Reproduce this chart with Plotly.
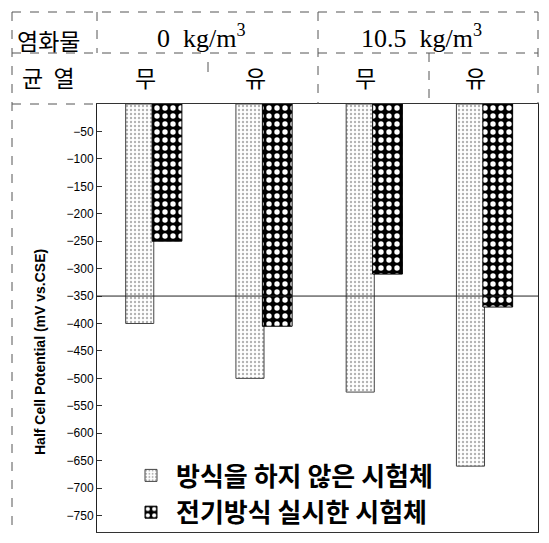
import plotly.graph_objects as go

# ---- data ----
categories = ["0 kg/m³ · 무", "0 kg/m³ · 유", "10.5 kg/m³ · 무", "10.5 kg/m³ · 유"]
crack_labels = ["무", "유", "무", "유"]
chloride_labels = ["0 &nbsp;kg/m<sup>3</sup>", "10.5 &nbsp;kg/m<sup>3</sup>"]
row_labels = ["염화물", "균 &nbsp;열"]
series_names = ["방식을 하지 않은 시험체", "전기방식 실시한 시험체"]
no_protection = [-400, -500, -525, -660]
with_protection = [-250, -405, -310, -370]
threshold = -350
y_ticks = [-50, -100, -150, -200, -250, -300, -350, -400, -450, -500,
           -550, -600, -650, -700, -750]
y_title = "Half Cell Potential (mV vs.CSE)"

# ---- layout geometry (pixels) ----
FIG_W, FIG_H = 549, 543
L, R, T, B = 97, 538, 104, 532
PW, PH = R - L, B - T


def px(x):
    return (x - L) / PW


def py(y):
    return (B - y) / PH


fig = go.Figure()
fig.add_trace(go.Bar(
    x=categories, y=no_protection, name=series_names[0], legendgroup="a",
    offset=-0.24, width=0.255,
    marker=dict(color="white", line=dict(color="#444", width=1),
                pattern=dict(shape=".", fgcolor="#666", bgcolor="white",
                             size=4, solidity=0.28)),
))
fig.add_trace(go.Bar(
    x=categories, y=with_protection, name=series_names[1], legendgroup="b",
    offset=0.0, width=0.27,
    marker=dict(color="black", line=dict(color="black", width=1),
                pattern=dict(shape=".", fgcolor="white", fillmode="overlay",
                             fgopacity=1, size=8, solidity=0.36)),
))

serif = "Liberation Serif, Times New Roman, serif"
kr = "Noto Sans CJK KR"

shapes = []
line_c = "#555"
# threshold line
shapes.append(dict(type="line", xref="paper", yref="y", x0=0, x1=1,
                   y0=threshold, y1=threshold, line=dict(color="#222", width=1)))


def hline(y, x0, x1, dash="solid"):
    shapes.append(dict(type="line", xref="paper", yref="paper",
                       x0=px(x0), x1=px(x1), y0=py(y), y1=py(y),
                       line=dict(color=line_c, width=1, dash=dash)))


def vline(x, y0, y1, dash="solid"):
    shapes.append(dict(type="line", xref="paper", yref="paper",
                       x0=px(x), x1=px(x), y0=py(y0), y1=py(y1),
                       line=dict(color=line_c, width=1, dash=dash)))


hline(12, 12, 538, "dash")
hline(53, 12, 538, "dash")
hline(104, 12, 97, "dash")
vline(12, 12, 532, "dash")
vline(538, 12, 104, "dash")
vline(97, 12, 53, "dash")
vline(318, 12, 104, "dash")
vline(429, 53, 104, "dash")
vline(208, 62, 72, "solid")

annotations = []
mid = dict(showarrow=False, xanchor="center", yanchor="middle")
annotations.append(dict(text=row_labels[0], xref="paper", yref="paper",
                        x=px(48), y=py(40), **mid,
                        font=dict(family=kr, size=23, color="black")))
annotations.append(dict(text=row_labels[1], xref="paper", yref="paper",
                        x=px(48), y=py(77), **mid,
                        font=dict(family=kr, size=23, color="black")))
for i, lab in enumerate(chloride_labels):
    annotations.append(dict(text=lab, xref="x", yref="paper",
                            x=2 * i + 0.5, y=py(36), xshift=-6, **mid,
                            font=dict(family=serif, size=26, color="black")))
for i, lab in enumerate(crack_labels):
    annotations.append(dict(text=lab, xref="x", yref="paper",
                            x=i, y=py(77), xshift=-7, **mid,
                            font=dict(family=kr, size=23, color="black")))
annotations.append(dict(text="<b>" + y_title + "</b>", xref="paper", yref="paper",
                        x=px(40), y=py(352), textangle=-90, **mid,
                        font=dict(family="Liberation Sans, Arial", size=14, color="black")))

fig.update_layout(
    width=FIG_W, height=FIG_H,
    margin=dict(l=L, r=FIG_W - R, t=T, b=FIG_H - B, pad=0, autoexpand=False),
    paper_bgcolor="white", plot_bgcolor="white",
    barmode="group", bargap=0.48, bargroupgap=0,
    showlegend=True,
    legend=dict(x=px(126), y=py(536), xanchor="left", yanchor="bottom",
                font=dict(family=kr, size=26, color="black", weight="bold"),
                bgcolor="rgba(0,0,0,0)", tracegroupgap=2,
                itemwidth=40, traceorder="normal"),
    xaxis=dict(showticklabels=False, ticks="", showgrid=False, automargin=False,
               showline=True, linecolor="#333", linewidth=1, mirror=True,
               zeroline=False),
    yaxis=dict(range=[-780, 0], tickvals=y_ticks, ticks="inside", ticklen=5,
               tickcolor="#333", showgrid=False, zeroline=False, automargin=False,
               showline=True, linecolor="#222", linewidth=1, mirror=True,
               tickfont=dict(family="Liberation Sans, Arial", size=12, color="black")),
    shapes=shapes,
    annotations=annotations,
)

fig.write_html("out.html", config={"displayModeBar": False},
               post_script="document.body.style.margin='0';document.body.style.padding='0';")
